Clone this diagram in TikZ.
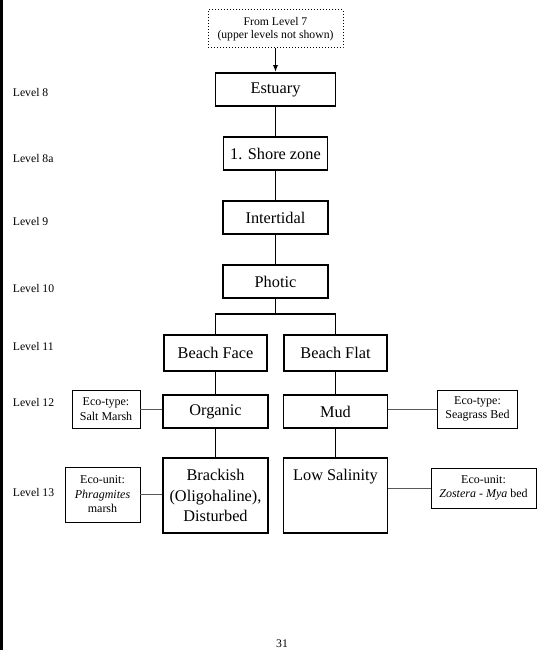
\documentclass[tikz,border=0pt]{standalone}
\usepackage{fontspec}
\setmainfont{Liberation Serif}
\usetikzlibrary{arrows.meta}
\begin{document}
\begin{tikzpicture}[x=1pt,y=-1pt,
  mainbox/.style={draw, line width=1.5pt, inner sep=0pt, align=center,
    font=\fontsize{16.3}{20.5}\selectfont},
  sidebox/.style={draw, line width=0.9pt, inner sep=0pt, align=center,
    font=\fontsize{12}{14.5}\selectfont},
  srcbox/.style={draw, line width=1pt, dash pattern=on 1pt off 2pt,
    inner sep=0pt, align=center, font=\fontsize{11.7}{13.5}\selectfont},
  lvl/.style={anchor=base west, inner sep=0pt, font=\fontsize{11.7}{14}\selectfont},
  link/.style={line width=1.4pt},
  sidelink/.style={line width=0.9pt, black!65},
]
\useasboundingbox (0,0) rectangle (544,650);

% page rule on the left
\draw[line width=2.5pt] (1.3,0) -- (1.3,650);

% main hierarchy
\node[srcbox, minimum width=135, minimum height=38] (src) at (275.5,29)
  {From Level 7\\(upper levels not shown)};
\node[mainbox, minimum width=120, minimum height=33] (estuary) at (275.5,89.5) {Estuary};
\node[mainbox, minimum width=104, minimum height=33] (shore) at (275.5,153.5) {1. Shore zone};
\node[mainbox, minimum width=105, minimum height=33] (intertidal) at (275.5,217.5) {Intertidal};
\node[mainbox, minimum width=105, minimum height=33] (photic) at (275.5,281.5) {Photic};
\node[mainbox, minimum width=103, minimum height=36] (bface) at (215.5,353) {Beach Face};
\node[mainbox, minimum width=103, minimum height=36] (bflat) at (335.5,353) {Beach Flat};
\node[mainbox, minimum width=105, minimum height=33] (organic) at (215.5,411.5) {Organic};
\node[mainbox, minimum width=104, minimum height=33] (mud) at (335.5,411.5) {Mud};
\node[mainbox, minimum width=105, minimum height=75] (brackish) at (215.5,495.5)
  {Brackish\\(Oligohaline),\\Disturbed};
\node[mainbox, minimum width=104, minimum height=75] (lowsal) at (335.5,495.5) {};
\node[anchor=base, inner sep=0pt, font=\fontsize{16.3}{20.5}\selectfont] (lowsaltext)
  at (335.5,480.5) {Low Salinity};

% eco-type / eco-unit boxes
\node[sidebox, minimum width=68, minimum height=38] (saltmarsh) at (106,409)
  {Eco-type:\\Salt Marsh};
\node[sidebox, minimum width=80, minimum height=38] (seagrass) at (477.5,409)
  {Eco-type:\\Seagrass Bed};
\node[sidebox, minimum width=75, minimum height=55] (phrag) at (102.5,494.5)
  {Eco-unit:\\\textit{Phragmites}\\marsh};
\node[sidebox, minimum width=105, minimum height=40] (zostera) at (483.5,488)
  {Eco-unit:\\\textit{Zostera} - \textit{Mya} bed};

% connectors
\draw[link, -{Latex[length=7pt,width=5pt]}] (src.south) -- (estuary.north);
\draw[link] (estuary) -- (shore);
\draw[link] (shore) -- (intertidal);
\draw[link] (intertidal) -- (photic);
\coordinate (split) at (275.5,314);
\draw[link] (photic.south) -- (split);
\draw[link] (bface.north) |- (split) -| (bflat.north);
\draw[link] (bface) -- (organic);
\draw[link] (bflat) -- (mud);
\draw[link] (organic) -- (brackish);
\draw[link] (mud) -- (lowsal);

\draw[sidelink] (saltmarsh.east) -- (saltmarsh.east -| organic.west);
\draw[sidelink] (phrag.east) -- (phrag.east -| brackish.west);
\draw[sidelink] (seagrass.west -| mud.east) -- (seagrass.west);
\draw[sidelink] (zostera.west -| lowsal.east) -- (zostera.west);

% level labels
\node[lvl] (l8) at (12.7,97) {Level 8};
\node[lvl] (l8a) at (12.7,162) {Level 8a};
\node[lvl] (l9) at (12.7,225) {Level 9};
\node[lvl] (l10) at (12.7,292) {Level 10};
\node[lvl] (l11) at (12.7,350) {Level 11};
\node[lvl] (l12) at (12.7,406) {Level 12};
\node[lvl] (l13) at (12.7,496) {Level 13};

% page number
\node[anchor=base, inner sep=0pt, font=\fontsize{11.7}{14}\selectfont] (pagenum)
  at (282,647) {31};
\end{tikzpicture}
\end{document}
